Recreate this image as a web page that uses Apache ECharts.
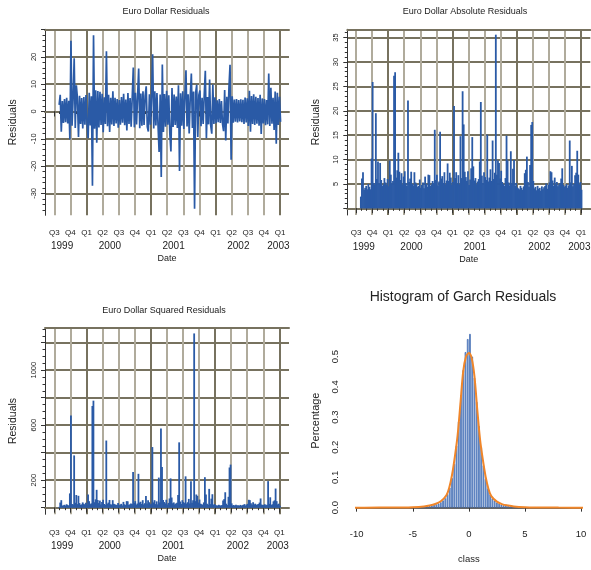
<!DOCTYPE html>
<html>
<head>
<meta charset="utf-8">
<script src="https://cdn.jsdelivr.net/npm/echarts@6/dist/echarts.min.js"></script>
<style>
html, body { margin: 0; padding: 0; background: #fff; }
#main { width: 591px; height: 570px; }
</style>
</head>
<body>
<div id="main"></div>
<script>
// time is counted in months since 1999-01-01, one value every ~6 days
const startMonth = 6.9
const stepMonth = 0.2

const res1999 = [2.4, 6.1, -7.4, 3.8, -4.2, 4.6, -3.9, 5.0, -4.4, 3.9, -10.2, 25.9, -5.2, 4.8, 19.5, -6.0,
    9.6, 5.1, -9.3, 5.8, -4.6, 4.9, -6.2, 5.3, -4.8, 6.0]
const res2000 = [-4.5, -9.8, 6.9, -5.1, 5.6, -27.2, 27.9, -6.3, 7.8, -11.4, 7.5, -5.8, 7.2, -4.9, 6.5, -7.6,
    5.2, -4.6, 22.1, -5.4, 6.1, -7.5, 5.0, -4.7, 7.4, -5.3, 5.0, -4.4, 4.6, -5.9, 4.2, -4.8,
    5.3, -4.1, 6.5, -5.0, 4.4, -6.9, 6.8, -4.6, 4.9, -5.6, 5.2, 16.1, -5.8, 6.9, -4.7, 5.5,
    15.7, -6.1, 6.6, -5.2, 7.4, -4.9, 5.7, 9.2, -5.6, -7.3, 6.3, -4.8]
const res2001 = [5.4, 21.0, -6.2, 7.4, -5.1, 6.8, -4.9, -14.8, 6.2, -24.0, 17.2, -7.5, 6.4, -5.6, 7.6, -4.8,
    5.9, -8.2, -14.6, 8.6, -5.7, 6.2, -4.9, 5.5, -6.0, 9.6, -21.8, 6.7, -5.2, 7.4, -6.4, 5.8,
    15.1, -5.5, 6.3, -8.0, 5.6, 13.9, -6.0, 7.3, -35.6, 6.9, 9.8, -9.3, 6.1, 7.7, -5.4, 5.0,
    -4.6, 6.2, 14.9, -9.8, 5.3, -4.7, 11.7, -5.1, -8.1, 9.9, -4.6, 5.2]
const res2002 = [-4.3, 4.1, -3.9, 4.6, -4.2, 3.8, -4.5, -7.2, 7.9, -10.6, 5.4, -4.4, 8.9, 17.1, -17.7, 5.6,
    -4.1, 4.4, -3.7, 4.6, -4.0, 4.2, -3.6, 4.5, -3.9, 4.3, -4.6, 5.1, -4.0, 4.8, -5.3, 7.6,
    -7.4, 5.7, -4.6, 6.3, -4.9, 5.4, -4.5, 4.9, -5.2, 6.1, -8.2, 4.8, -4.4, 4.6, -5.0, 4.2,
    -4.7, 13.9, -5.3, 8.7, -4.5, 5.0, -6.8, 7.3, -11.8, 6.9, -4.9, 5.4, -3.8]

const quarterTicks = [6, 9, 12, 15, 18, 21, 24, 27, 30, 33, 36, 39, 42, 45, 48]
const quarterLabels = ['Q3', 'Q4', 'Q1', 'Q2', 'Q3', 'Q4', 'Q1', 'Q2', 'Q3', 'Q4', 'Q1', 'Q2', 'Q3', 'Q4', 'Q1']
const yearTicks = [7.45, 16.35, 28.2, 40.25, 47.7]
const yearLabels = ['1999', '2000', '2001', '2002', '2003']

// histogram of the residuals, bins of 0.2
const binMids = [-4.5, -4.3, -4.1, -3.9, -3.7, -3.5, -3.3, -3.1, -2.9, -2.7, -2.5, -2.3, -2.1, -1.9, -1.7, -1.5,
    -1.3, -1.1, -0.9, -0.7, -0.5, -0.3, -0.1, 0.1, 0.3, 0.5, 0.7, 0.9, 1.1, 1.3, 1.5, 1.7,
    1.9, 2.1, 2.3, 2.5, 2.7, 2.9, 3.1, 3.3, 3.5, 3.7, 3.9, 4.1, 4.3, 4.5]
const binDensity = [0.002, 0.003, 0.003, 0.004, 0.005, 0.006, 0.007, 0.009, 0.011, 0.014, 0.018, 0.024, 0.031, 0.045, 0.066, 0.098,
    0.145, 0.205, 0.285, 0.372, 0.455, 0.515, 0.558, 0.575, 0.5, 0.43, 0.35, 0.27, 0.2, 0.14, 0.095, 0.064,
    0.044, 0.031, 0.023, 0.017, 0.013, 0.01, 0.008, 0.006, 0.005, 0.004, 0.003, 0.002, 0.002, 0.001]
const curveX = [-11, -8, -6, -5, -4, -3.5, -3, -2.5, -2, -1.75, -1.5, -1.25, -1, -0.75, -0.5, -0.25, 0,
    0.25, 0.5, 0.75, 1, 1.25, 1.5, 1.75, 2, 2.5, 3, 3.5, 4, 5, 6, 8, 11]
const curveY = [0, 0.0002, 0.0007, 0.0015, 0.004, 0.007, 0.012, 0.021, 0.041, 0.066, 0.108, 0.168, 0.24, 0.345, 0.452, 0.5, 0.512,
    0.495, 0.435, 0.325, 0.225, 0.158, 0.102, 0.062, 0.038, 0.02, 0.011, 0.007, 0.004, 0.0015, 0.0007, 0.0002, 0]

const FONT = '"Liberation Sans", Arial, sans-serif'
const TXT = '#222'
const GRID_DARK = '#77725f'
const GRID_LIGHT = '#b0ab9c'
const BLUE = '#2a5aa6'
const ORANGE = '#f0862a'

const residuals = [].concat(res1999, res2000, res2001, res2002)
const months = residuals.map((v, i) => startMonth + i * stepMonth)

const monthTicks = []
for (let m = 6; m <= 48; m++) monthTicks.push(m)

function pick(list, labels, v) {
    const k = list.findIndex(t => Math.abs(t - v) < 1e-6)
    return k < 0 ? '' : labels[k]
}

function timeXAxes(p, xr, qMargin, yMargin, nameGap) {
    return [
        {
            gridIndex: p, type: 'value', min: xr[0], max: xr[1], position: 'bottom',
            axisLine: { show: true, lineStyle: { color: GRID_DARK, width: 2 } },
            axisTick: { show: true, customValues: quarterTicks, length: 5, lineStyle: { color: '#333' } },
            axisLabel: {
                customValues: quarterTicks, formatter: v => pick(quarterTicks, quarterLabels, v),
                fontSize: 8, margin: qMargin, color: TXT, fontFamily: FONT,
            },
            splitLine: { show: true, lineStyle: { color: [GRID_LIGHT, GRID_LIGHT, GRID_DARK, GRID_LIGHT], width: 2 } },
            name: 'Date', nameLocation: 'middle', nameGap: nameGap,
            nameTextStyle: { fontSize: 9, color: TXT, fontFamily: FONT },
        },
        {
            gridIndex: p, type: 'value', min: xr[0], max: xr[1], position: 'bottom',
            axisLine: { show: false },
            axisTick: { show: true, customValues: monthTicks, length: 2.5, lineStyle: { color: '#333' } },
            axisLabel: {
                customValues: yearTicks, formatter: v => pick(yearTicks, yearLabels, v),
                fontSize: 10, margin: yMargin, color: TXT, fontFamily: FONT,
            },
            splitLine: { show: false },
        },
        {
            gridIndex: p, type: 'value', min: xr[0], max: xr[1], position: 'top',
            axisLine: { show: true, lineStyle: { color: GRID_DARK, width: 2 } },
            axisTick: { show: false }, axisLabel: { show: false }, splitLine: { show: false },
        },
    ]
}

function timeYAxes(p, yr, major, labels, minor) {
    return [
        {
            gridIndex: p, type: 'value', min: yr[0], max: yr[1], position: 'left',
            axisLine: { show: true, lineStyle: { color: '#333', width: 1 } },
            axisTick: { show: true, customValues: major, length: 4, lineStyle: { color: '#333' } },
            axisLabel: {
                customValues: labels, formatter: v => String(v), rotate: 90,
                fontSize: 7.5, margin: 7, color: TXT, fontFamily: FONT,
            },
            splitLine: { show: true, lineStyle: { color: GRID_DARK, width: 2 } },
            name: 'Residuals', nameLocation: 'middle', nameGap: 26, nameRotate: 90,
            nameTextStyle: { fontSize: 10.5, color: TXT, fontFamily: FONT },
        },
        {
            gridIndex: p, type: 'value', min: yr[0], max: yr[1], position: 'left', offset: 0,
            axisLine: { show: false },
            axisTick: { show: true, customValues: minor, length: 2.5, lineStyle: { color: '#333' } },
            axisLabel: { show: false }, splitLine: { show: false },
        },
    ]
}

function range(a, b, s) {
    const out = []
    for (let v = a; v <= b + 1e-9; v += s) out.push(Math.round(v * 100) / 100)
    return out
}

const chart = echarts.init(document.getElementById('main'))

const option = {
    animation: false,
    backgroundColor: '#fff',
    title: [
        { text: 'Euro Dollar Residuals', left: 166, top: 7, textAlign: 'center', padding: 0,
          textStyle: { fontSize: 9, fontWeight: 'normal', color: TXT, fontFamily: FONT } },
        { text: 'Euro Dollar Absolute Residuals', left: 465, top: 7, textAlign: 'center', padding: 0,
          textStyle: { fontSize: 9, fontWeight: 'normal', color: TXT, fontFamily: FONT } },
        { text: 'Euro Dollar Squared Residuals', left: 164, top: 306, textAlign: 'center', padding: 0,
          textStyle: { fontSize: 9, fontWeight: 'normal', color: TXT, fontFamily: FONT } },
        { text: 'Histogram of Garch Residuals', left: 463, top: 290, textAlign: 'center', padding: 0,
          textStyle: { fontSize: 14, fontWeight: 'normal', color: TXT, fontFamily: FONT } },
    ],
    grid: [
        { left: 45, top: 29.3, width: 244, height: 186, outerBoundsMode: 'none' },
        { left: 347.3, top: 29.3, width: 243, height: 185.7, outerBoundsMode: 'none' },
        { left: 45, top: 327.7, width: 244, height: 186.6, outerBoundsMode: 'none' },
        { left: 356.7, top: 327, width: 224.3, height: 187.3, outerBoundsMode: 'none' },
    ],
    xAxis: [].concat(
        timeXAxes(0, [4.27, 49.67], 13, 26, 39),
        timeXAxes(1, [4.37, 49.74], 14, 27, 40),
        timeXAxes(2, [4.26, 49.8], 14, 27, 40),
        [{
            gridIndex: 3, type: 'value', min: -10, max: 10,
            axisLine: { show: true, lineStyle: { color: '#333', width: 1.5 } },
            axisTick: { show: true, customValues: [-10, -5, 0, 5, 10], length: 4, lineStyle: { color: '#333' } },
            axisLabel: { customValues: [-10, -5, 0, 5, 10], formatter: v => String(v),
                fontSize: 9.5, margin: 15, color: TXT, fontFamily: FONT },
            splitLine: { show: false },
            name: 'class', nameLocation: 'middle', nameGap: 40,
            nameTextStyle: { fontSize: 9.5, color: TXT, fontFamily: FONT },
        }]
    ),
    yAxis: [].concat(
        timeYAxes(0, [-38, 30.1], range(-30, 30, 10), range(-30, 20, 10), range(-36, 30, 2)),
        timeYAxes(1, [-1.37, 36.7], range(0, 35, 5), range(5, 35, 5), range(0, 36, 1)),
        timeYAxes(2, [-48, 1309], range(0, 1200, 200), [200, 600, 1000], range(0, 1300, 50)),
        [{
            gridIndex: 3, type: 'value', min: -0.022, max: 0.598,
            axisLine: { show: false }, axisTick: { show: false },
            axisLabel: { customValues: range(0, 0.5, 0.1), formatter: v => v.toFixed(1), rotate: 90,
                fontSize: 9.5, margin: 16, color: TXT, fontFamily: FONT },
            splitLine: { show: false },
            name: 'Percentage', nameLocation: 'middle', nameGap: 35, nameRotate: 90,
            nameTextStyle: { fontSize: 11, color: TXT, fontFamily: FONT },
        }]
    ),
    series: [
        {
            type: 'line', xAxisIndex: 0, yAxisIndex: 0,
            data: residuals.map((v, i) => [months[i], v]),
            showSymbol: false, symbol: 'none',
            lineStyle: { color: BLUE, width: 1.7 },
        },
        {
            type: 'bar', xAxisIndex: 3, yAxisIndex: 2,
            data: residuals.map((v, i) => [months[i], Math.abs(v)]),
            barWidth: 1.8, itemStyle: { color: BLUE },
        },
        {
            type: 'bar', xAxisIndex: 6, yAxisIndex: 4,
            data: residuals.map((v, i) => [months[i], v * v]),
            barWidth: 1.8, itemStyle: { color: BLUE },
        },
        {
            type: 'bar', xAxisIndex: 9, yAxisIndex: 6,
            data: binMids.map((m, i) => [m, binDensity[i]]),
            barWidth: 1.6, itemStyle: { color: '#a3b9e0', borderColor: '#2f5fac', borderWidth: 0.7 },
        },
        {
            type: 'line', xAxisIndex: 9, yAxisIndex: 6, clip: false,
            data: curveX.map((x, i) => [x, curveY[i]]),
            smooth: 0.3, showSymbol: false, symbol: 'none',
            lineStyle: { color: ORANGE, width: 2 },
        },
    ],
}

chart.setOption(option)
</script>
</body>
</html>
